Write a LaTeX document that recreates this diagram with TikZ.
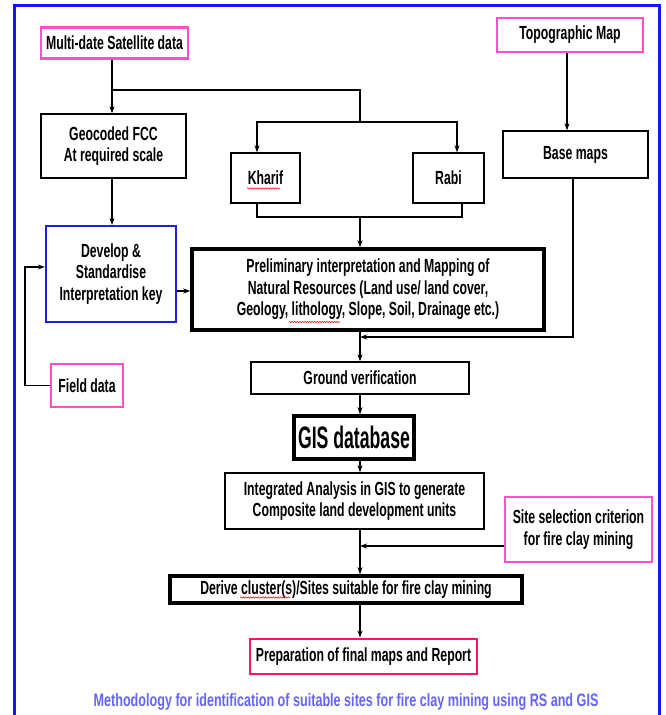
\documentclass[tikz,border=0pt]{standalone}
\usepackage{fontspec}
\setmainfont[FakeStretch=0.645]{Liberation Sans}
\newfontfamily\gisfont[FakeStretch=0.57]{Liberation Sans}
\newfontfamily\capfont[FakeStretch=0.70]{Liberation Sans}
\usetikzlibrary{arrows.meta,decorations.pathmorphing}
\definecolor{pinkb}{RGB}{255,80,200}
\definecolor{frameblue}{RGB}{20,20,255}
\definecolor{devblue}{RGB}{30,30,220}
\definecolor{prepred}{RGB}{255,20,100}
\definecolor{captionblue}{RGB}{100,100,255}
\definecolor{squig}{RGB}{230,40,40}
\begin{document}
\begin{tikzpicture}[x=1pt,y=-1pt,
  box/.style={draw=black, line width=1.3pt, fill=white, align=center, inner sep=0pt,
    font=\fontsize{19}{21.5}\selectfont\bfseries},
  pinkbox/.style={box, draw=pinkb, line width=2.2pt},
  thickbox/.style={box, line width=3.5pt},
  conn/.style={line width=1.1pt},
  arr/.style={conn, -{Stealth[length=7pt,width=5pt]}},
  spell/.style={squig, line width=0.6pt, decorate, decoration={snake, amplitude=0.7pt, segment length=2.5pt}}]
\useasboundingbox (0,0) rectangle (665,715);
\fill[white] (0,0) rectangle (665,715);
\draw[frameblue, line width=3pt] (14,720) -- (14,5) -- (659,5) -- (659,720);

\node[pinkbox, minimum width=147pt, minimum height=31pt] (multi) at (114.5,43) {Multi-date Satellite data};
\node[pinkbox, minimum width=146pt, minimum height=34pt] (topo) at (570,35) {Topographic Map};
\node[box, minimum width=145pt, minimum height=64pt] (geo) at (113.5,146) {Geocoded FCC\\At required scale};
\node[box, minimum width=69pt, minimum height=50pt] (kharif) at (265.5,178) {Kharif};
\node[box, minimum width=71pt, minimum height=50pt] (rabi) at (448.5,178) {Rabi};
\node[box, minimum width=145pt, minimum height=47pt] (base) at (575.5,154.5) {Base maps};
\node[box, draw=devblue, line width=2.2pt, minimum width=130pt, minimum height=96pt] (dev) at (111,274) {Develop \&\\Standardise\\Interpretation key};
\node[thickbox, minimum width=352pt, minimum height=81pt] (prelim) at (368,289.5) {Preliminary interpretation and Mapping of\\Natural Resources (Land use/ land cover,\\Geology, lithology, Slope, Soil, Drainage etc.)};
\node[pinkbox, minimum width=72pt, minimum height=43pt] (field) at (87,385.5) {Field data};
\node[box, minimum width=218pt, minimum height=32pt] (ground) at (360,378) {Ground verification};
\node[thickbox, minimum width=120pt, minimum height=43pt, font=\gisfont\fontsize{31}{32}\selectfont\bfseries] (gis) at (354,437.5) {GIS database};
\node[box, minimum width=259pt, minimum height=56pt] (integ) at (354.5,501) {Integrated Analysis in GIS to generate\\Composite land development units};
\node[pinkbox, minimum width=147pt, minimum height=65pt] (site) at (578.5,529.5) {Site selection criterion\\for fire clay mining};
\node[thickbox, minimum width=352pt, minimum height=27pt] (derive) at (346,589.5) {Derive cluster(s)/Sites suitable for fire clay mining};
\node[box, draw=prepred, line width=2.8pt, minimum width=227pt, minimum height=35pt] (prep) at (363.5,656.5) {Preparation of final maps and Report};
\node[text=captionblue, font=\capfont\fontsize{18}{20}\selectfont\bfseries] (cap) at (346,702) {Methodology for identification of suitable sites for fire clay mining using RS and GIS};

\coordinate (sp) at (360,0);
\coordinate (j1) at (112,90);
\coordinate (j2) at (360,122);
\coordinate (kx) at (257,0);
\coordinate (rx) at (457,0);
\coordinate (rxb) at (462,0);
\coordinate (jb) at (360,217);
\coordinate (tx) at (567,0);
\coordinate (bx) at (573,0);
\coordinate (jr) at (360,337);
\coordinate (js) at (360,546);
\coordinate (fl) at (25,267);
\coordinate (dp) at (0,291);

\draw[arr] (multi.south -| j1) -- (geo.north -| j1);
\draw[conn] (j1) -| (j2);
\draw[arr] (j2) -| (kharif.north -| kx);
\draw[arr] (j2) -| (rabi.north -| rx);
\draw[conn] (kharif.south -| kx) |- (jb) -| (rabi.south -| rxb);
\draw[arr] (jb) -- (prelim.north -| jb);
\draw[arr] (topo.south -| tx) -- (base.north -| tx);
\draw[arr] (base.south -| bx) |- (jr);
\draw[arr] (geo.south -| j1) -- (dev.north -| j1);
\draw[arr] (field.west) -| (fl) -- (dev.west |- fl);
\draw[arr] (dev.east |- dp) -- (prelim.west |- dp);
\draw[arr] (prelim.south -| sp) -- (ground.north -| sp);
\draw[arr] (ground.south -| sp) -- (gis.north -| sp);
\draw[arr] (gis.south -| sp) -- (integ.north -| sp);
\draw[arr] (integ.south -| sp) -- (derive.north -| sp);
\draw[arr] (site.west |- js) -- (js);
\draw[arr] (derive.south -| sp) -- (prep.north -| sp);

\draw[spell] (247,188.5) -- (280,188.5);
\draw[spell] (289,322) -- (340,322);
\draw[spell] (240,597.5) -- (290,597.5);
\end{tikzpicture}
\end{document}
